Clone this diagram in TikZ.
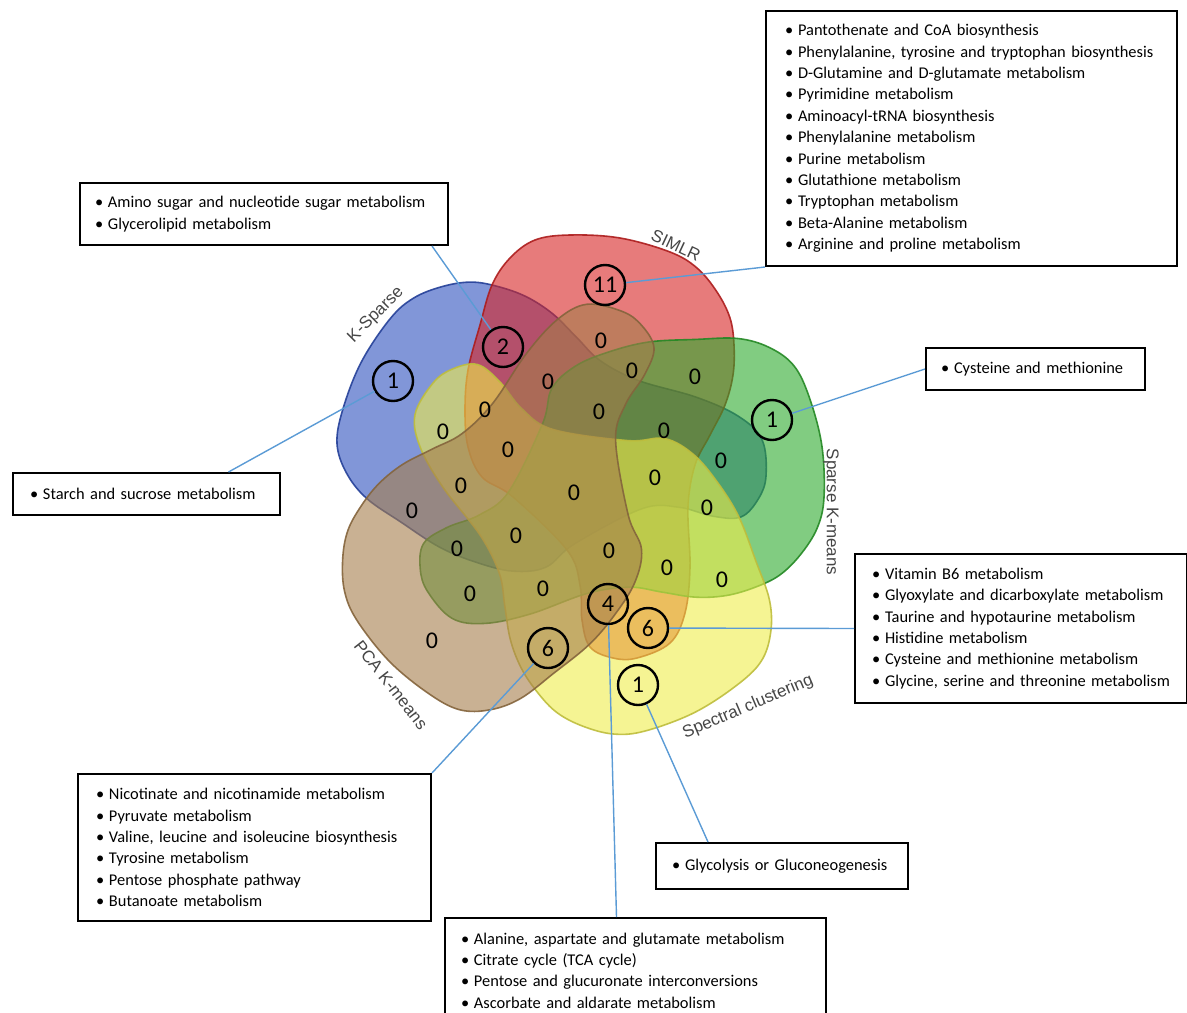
\documentclass[tikz,border=0pt]{standalone}
\usepackage{fontspec}
\setmainfont{Carlito}
\newfontfamily\setlabelfont{Liberation Sans}
\usetikzlibrary{calc}
\definecolor{ksparse}{RGB}{45,80,190}
\definecolor{simlr}{RGB}{215,35,35}
\definecolor{skmeans}{RGB}{45,170,45}
\definecolor{spectral}{RGB}{238,236,75}
\definecolor{pcakm}{RGB}{165,125,75}
\definecolor{linkblue}{RGB}{91,155,213}
\definecolor{labelgray}{RGB}{70,70,70}
\newcommand{\itm}[1]{\mbox{\makebox[6.5pt][l]{\textbullet}#1}}
\tikzset{
  venn/.style={fill=#1, fill opacity=0.6, draw=#1!80!black, draw opacity=0.9, line width=0.8pt},
  countcirc/.style={circle, draw=black, line width=1.2pt, minimum size=20pt, inner sep=0pt, font=\fontsize{12}{13}\selectfont},
  zerolbl/.style={font=\fontsize{12}{13}\selectfont, inner sep=0pt},
  setname/.style={font=\setlabelfont\fontsize{8.5}{10}\selectfont, text=labelgray, inner sep=0pt},
  pathbox/.style={draw=black, line width=1pt, fill=white, align=left, anchor=north west, font=\fontsize{8.2}{10.7}\selectfont},
  link/.style={draw=linkblue, line width=0.7pt}
}
\begin{document}
\begin{tikzpicture}[x=0.5pt, y=-0.5pt]
\useasboundingbox (0,0) rectangle (1187,1012);
\clip (0,0) rectangle (1187,1012);
% five sets: one outline turned about the middle
\foreach \ang/\dx/\dy/\col in {72/0/0/ksparse, 0/0/0/simlr, -72/4/0/skmeans, -144/12/15/spectral, 144/-10/15/pcakm}{
  \begin{scope}[shift={(576+\dx,478+\dy)}, rotate=\ang]
    \filldraw[venn=\col] plot[smooth cycle, tension=0.6] coordinates {
      (-41,-238) (-6,-243) (44,-240) (94,-226) (121,-210) (141,-186) (154,-160)
      (158,-133) (157,-103) (149,-73) (134,-43) (119,-13) (112,29) (114,89)
      (109,135) (94,165) (61,180) (37,180) (14,169) (6,142) (4,107) (-9,72)
      (-63,19) (-94,-1) (-108,-31) (-111,-68) (-108,-108) (-96,-153) (-84,-193) (-66,-220)};
  \end{scope}
}
% set names
\node[setname, rotate=45] (lblksparse) at (376,315) {K-Sparse};
\node[setname, rotate=-25] (lblsimlr) at (676,245) {SIMLR};
\node[setname, rotate=-90] (lblskm) at (831,512) {Sparse K-means};
\node[setname, rotate=23] (lblspec) at (748,707) {Spectral clustering};
\node[setname, rotate=-52] (lblpca) at (391,685) {PCA K-means};
% empty regions
\foreach \x/\y [count=\i] in {601/341, 548/382, 632/371, 695/377, 485/410, 443/432, 599/412,
    664/431, 508/450, 721/461, 461/486, 655/478, 574/493, 412/511, 707/508, 516/536,
    457/549, 609/551, 667/568, 722/580, 470/594, 543/589, 432/641}
  \node[zerolbl] (zero\i) at (\x,\y) {0};
% regions with pathways
\node[countcirc] (c11) at (605,285) {11};
\node[countcirc] (c2) at (503,347) {2};
\node[countcirc] (c1b) at (393,381) {1};
\node[countcirc] (c1g) at (772,420) {1};
\node[countcirc] (c4) at (608,604) {4};
\node[countcirc] (c6o) at (648,628) {6};
\node[countcirc] (c6p) at (548,648) {6};
\node[countcirc] (c1y) at (638,685) {1};
% pathway lists
\node[pathbox, text width=186.5pt, inner xsep=9.5pt, minimum height=127.5pt] (simlrbox) at (765,10)
{\itm{Pantothenate and CoA biosynthesis}\\
 \itm{Phenylalanine, tyrosine and tryptophan biosynthesis}\\
 \itm{D-Glutamine and D-glutamate metabolism}\\
 \itm{Pyrimidine metabolism}\\
 \itm{Aminoacyl-tRNA biosynthesis}\\
 \itm{Phenylalanine metabolism}\\
 \itm{Purine metabolism}\\
 \itm{Glutathione metabolism}\\
 \itm{Tryptophan metabolism}\\
 \itm{Beta-Alanine metabolism}\\
 \itm{Arginine and proline metabolism}};
\node[pathbox, text width=169pt, inner xsep=7.5pt, minimum height=31pt] (aminobox) at (79,182)
{\itm{Amino sugar and nucleotide sugar metabolism}\\
 \itm{Glycerolipid metabolism}};
\node[pathbox, text width=116.5pt, inner xsep=8.5pt, minimum height=21pt] (starchbox) at (12,472)
{\itm{Starch and sucrose metabolism}};
\node[pathbox, text width=94.5pt, inner xsep=7.5pt, minimum height=21pt] (cysbox) at (925,347)
{\itm{Cysteine and methionine}};
\node[pathbox, text width=149pt, inner xsep=8.5pt, minimum height=74.5pt] (vitbox) at (854,553)
{\itm{Vitamin B6 metabolism}\\
 \itm{Glyoxylate and dicarboxylate metabolism}\\
 \itm{Taurine and hypotaurine metabolism}\\
 \itm{Histidine metabolism}\\
 \itm{Cysteine and methionine metabolism}\\
 \itm{Glycine, serine and threonine metabolism}};
\node[pathbox, text width=158.5pt, inner xsep=9pt, minimum height=73.5pt] (nicobox) at (77,773)
{\itm{Nicotinate and nicotinamide metabolism}\\
 \itm{Pyruvate metabolism}\\
 \itm{Valine, leucine and isoleucine biosynthesis}\\
 \itm{Tyrosine metabolism}\\
 \itm{Pentose phosphate pathway}\\
 \itm{Butanoate metabolism}};
\node[pathbox, text width=110pt, inner xsep=8pt, minimum height=23pt] (glycobox) at (655,842)
{\itm{Glycolysis or Gluconeogenesis}};
\node[pathbox, text width=174.5pt, inner xsep=8pt, minimum height=52.5pt] (alabox) at (444,917)
{\itm{Alanine, aspartate and glutamate metabolism}\\
 \itm{Citrate cycle (TCA cycle)}\\
 \itm{Pentose and glucuronate interconversions}\\
 \itm{Ascorbate and aldarate metabolism}};
% leader lines
\draw[link] (c11) -- (simlrbox.south west);
\draw[link] (c2) -- ($(aminobox.south east)+(-17,0)$);
\draw[link] (c1b) -- ($(starchbox.north)+(82,0)$);
\draw[link] (c1g) -- (cysbox.west);
\draw[link] (c6o) -- (vitbox.west);
\draw[link] (c6p) -- (nicobox.north east);
\draw[link] (c4) -- ($(alabox.north)+(-19,0)$);
\draw[link] (c1y) -- ($(glycobox.north)+(-74,0)$);
\end{tikzpicture}
\end{document}
